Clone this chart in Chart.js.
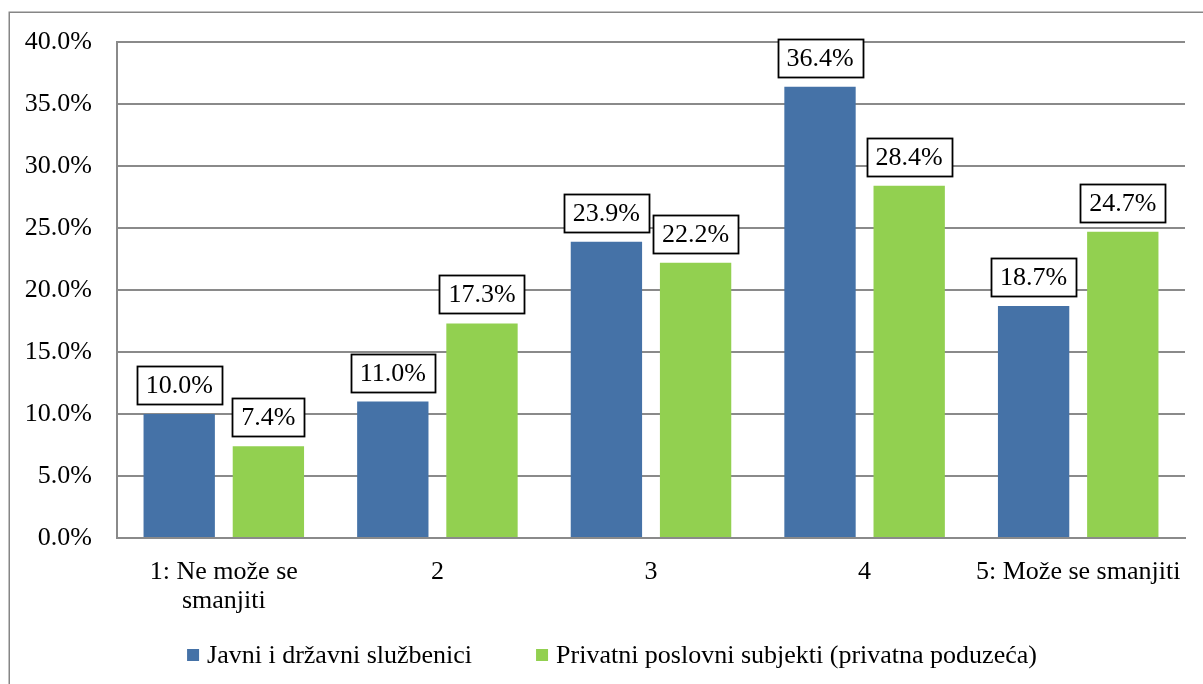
<!DOCTYPE html>
<html>
<head>
<meta charset="utf-8">
<script src="https://cdn.jsdelivr.net/npm/chart.js@4.4.1/dist/chart.umd.min.js"></script>
<style>
  html, body { margin: 0; padding: 0; background: #ffffff; }
  #wrap { width: 1203px; height: 684px; position: relative; }
</style>
</head>
<body>
<div id="wrap"><canvas id="c" width="1203" height="684"></canvas></div>
<script>
const categories = [["1: Ne može se", "smanjiti"], "2", "3", "4", "5: Može se smanjiti"];
const seriesNames = ["Javni i državni službenici", "Privatni poslovni subjekti (privatna poduzeća)"];
const javniValues = [10.0, 11.0, 23.9, 36.4, 18.7];
const privatniValues = [7.4, 17.3, 22.2, 28.4, 24.7];
const yTickLabels = ["0.0%", "5.0%", "10.0%", "15.0%", "20.0%", "25.0%", "30.0%", "35.0%", "40.0%"];
const seriesColors = ["#4572A7", "#92D050"];

const FONT = "'Liberation Serif', 'Times New Roman', serif";
const FS = 26;

const framePlugin = {
  id: 'frame',
  beforeDraw(chart) {
    const ctx = chart.ctx;
    ctx.save();
    ctx.fillStyle = '#ffffff';
    ctx.fillRect(0, 0, chart.width, chart.height);
    ctx.strokeStyle = '#868686';
    ctx.lineWidth = 1.5;
    ctx.strokeRect(9.25, 12.25, 1400, 1000);
    ctx.restore();
  }
};

const labelPlugin = {
  id: 'boxLabels',
  afterDatasetsDraw(chart) {
    const ctx = chart.ctx;
    ctx.save();
    ctx.font = FS + 'px ' + FONT;
    ctx.textAlign = 'center';
    ctx.textBaseline = 'middle';
    chart.data.datasets.forEach((ds, di) => {
      const meta = chart.getDatasetMeta(di);
      meta.data.forEach((bar, i) => {
        const txt = ds.data[i].toFixed(1) + '%';
        const w = Math.round(ctx.measureText(txt).width + 18);
        const h = 38;
        const bottom = bar.y - 10;
        const x0 = Math.round(bar.x - w / 2) + 0.5;
        const y0 = Math.round(bottom - h) + 0.5;
        ctx.fillStyle = '#ffffff';
        ctx.fillRect(x0, y0, w, h);
        ctx.strokeStyle = '#000000';
        ctx.lineWidth = 1.8;
        ctx.strokeRect(x0, y0, w, h);
        ctx.fillStyle = '#000000';
        ctx.fillText(txt, bar.x, y0 + h / 2 + 1);
      });
    });
    ctx.restore();
  }
};

const legendPlugin = {
  id: 'customLegend',
  afterDraw(chart) {
    const ctx = chart.ctx;
    ctx.save();
    ctx.font = FS + 'px ' + FONT;
    ctx.textBaseline = 'middle';
    ctx.textAlign = 'left';
    const box = 12, gapText = 8, gapItem = 64;
    const widths = chart.data.datasets.map(ds => ctx.measureText(ds.label).width);
    let total = 0;
    widths.forEach((w, i) => { total += box + gapText + w + (i < widths.length - 1 ? gapItem : 0); });
    let x = 612 - total / 2;
    const cy = 655;
    chart.data.datasets.forEach((ds, i) => {
      ctx.fillStyle = ds.backgroundColor;
      ctx.fillRect(x, cy - 6, box, box);
      ctx.fillStyle = '#000000';
      ctx.fillText(ds.label, x + box + gapText, cy + 1);
      x += box + gapText + widths[i] + gapItem;
    });
    ctx.restore();
  }
};

new Chart(document.getElementById('c'), {
  type: 'bar',
  data: {
    labels: categories,
    datasets: [
      { label: seriesNames[0], data: javniValues, backgroundColor: seriesColors[0] },
      { label: seriesNames[1], data: privatniValues, backgroundColor: seriesColors[1] }
    ]
  },
  options: {
    responsive: false,
    animation: false,
    devicePixelRatio: 1,
    layout: { padding: { top: 42, left: 0, right: 18, bottom: 66 } },
    datasets: { bar: { categoryPercentage: 0.835, barPercentage: 0.8 } },
    plugins: {
      legend: { display: false },
      tooltip: { enabled: false }
    },
    scales: {
      y: {
        min: 0, max: 40,
        ticks: {
          stepSize: 5,
          padding: 25,
          color: '#000000',
          font: { family: FONT, size: FS },
          callback: (v, i) => yTickLabels[i]
        },
        grid: { color: '#8a8a8a', lineWidth: 2, drawTicks: false },
        border: { display: true, color: '#8a8a8a', width: 2 },
        afterFit(s) { s.width = 117; }
      },
      x: {
        ticks: {
          padding: 20,
          color: '#000000',
          maxRotation: 0,
          autoSkip: false,
          font: { family: FONT, size: FS, lineHeight: 1.1 }
        },
        grid: { display: false, drawTicks: false },
        border: { display: true, color: '#8a8a8a', width: 2 },
        afterFit(s) { s.height = 80; }
      }
    }
  },
  plugins: [framePlugin, labelPlugin, legendPlugin]
});
</script>
</body>
</html>
